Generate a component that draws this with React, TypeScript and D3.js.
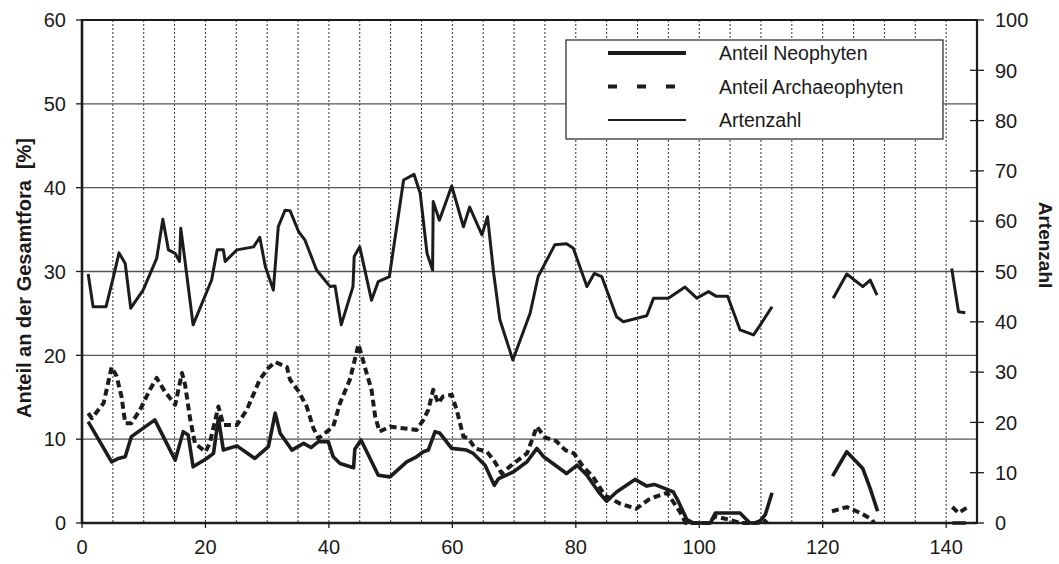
import React from 'react'
import * as d3 from 'd3'

// [position, value] pairs, null breaks the line
const artenzahl: ([number, number] | null)[] = [
  [1, 49.5], [1.8, 43], [3.9, 43], [5.1, 49], [6, 53.7], [7, 51.6], [7.9, 42.7], [9.9, 46.3],
  [12.1, 52.6], [13.1, 60.4], [14, 54.3], [15.1, 53.6], [15.8, 52], [16, 58.6], [16.5, 53.9],
  [18, 39.4], [21, 48.3], [21.9, 54.3], [22.9, 54.3], [23.2, 52], [25.1, 54.3], [27.8, 54.9],
  [28.8, 56.8], [29.7, 51], [31, 46.3], [31.8, 58.9], [32.9, 62.2], [33.7, 62.1], [35.1, 57.9],
  [36.1, 56.3], [38, 50.3], [40.2, 47], [41, 47.1], [42, 39.4], [43.9, 47], [44.1, 53],
  [45, 54.9], [46.9, 44.3], [48, 48], [49.8, 49], [52.1, 68.2], [53.8, 69.3], [54.8, 65.5],
  [55.9, 53.6], [56.8, 50.3], [56.9, 63.9], [57.9, 60.2], [59.9, 67], [61.8, 58.9], [62.8, 62.8],
  [64.8, 57.3], [65.7, 60.9], [66.7, 49.6], [67.7, 40.4], [69.8, 32.4], [72.6, 41.7], [73.9, 49],
  [76.6, 55.3], [78.5, 55.5], [79.6, 54.6], [81.8, 47], [83, 49.6], [84.2, 49], [86.6, 41],
  [87.7, 40], [91.5, 41.2], [92.6, 44.7], [95, 44.7], [97.7, 46.9], [99.6, 44.7], [101.5, 46],
  [102.7, 45.1], [104.6, 45.1], [106.6, 38.4], [108.8, 37.4], [109.9, 39.4], [111.8, 43],
  null,
  [121.7, 44.7], [123.9, 49.5], [126.5, 47], [127.7, 48.3], [128.8, 45.3],
  null,
  [140.9, 50.6], [142, 42], [143.1, 41.8],
]

const neophyten: ([number, number] | null)[] = [
  [1, 12.1], [4.8, 7.3], [5.9, 7.7], [7, 7.9], [8, 10.3], [11.8, 12.3], [15.1, 7.5], [16.4, 10.9],
  [17.2, 10.5], [18, 6.7], [20.2, 7.7], [21.3, 8.3], [22.1, 12.5], [22.9, 8.7], [25.1, 9.2],
  [28, 7.7], [30.2, 9.1], [31.3, 13.1], [32.1, 10.7], [34, 8.7], [35.9, 9.5], [37.1, 9],
  [38.3, 9.7], [39.9, 9.7], [40.7, 7.9], [41.8, 7.1], [44, 6.6], [44.2, 8.8], [45.2, 9.9],
  [48, 5.7], [49.9, 5.5], [52.6, 7.3], [54.2, 7.9], [55.3, 8.5], [56.1, 8.7], [57.2, 10.9],
  [58, 10.7], [59.9, 8.9], [62.3, 8.7], [63.4, 8.3], [65.3, 6.9], [66.8, 4.5], [67.5, 5.3],
  [69.9, 6.1], [72.1, 7.3], [73.7, 8.9], [74.8, 7.9], [78.5, 5.9], [80.2, 6.9], [81.8, 5.7],
  [83.7, 3.7], [85, 2.6], [86.6, 3.7], [89.6, 5.2], [91.5, 4.4], [92.7, 4.6], [94.5, 4.1],
  [95.8, 3.7], [96.6, 2.6], [98, 0.4], [99.1, 0], [101.8, 0], [102.6, 1.2], [106.6, 1.2],
  [108.2, 0], [109.6, 0], [110.7, 1], [111.8, 3.6],
  null,
  [121.6, 5.6], [123.9, 8.5], [126.5, 6.5], [127.7, 4.1], [128.9, 1.4],
  null,
  [141, 0], [143.2, 0],
]

const archaeophyten: ([number, number] | null)[] = [
  [1, 13.1], [1.6, 12.5], [3.5, 14.3], [4.8, 18.6], [5.6, 17.5], [6.4, 15.1], [7, 11.9], [8, 11.9],
  [9.4, 13.5], [11, 15.9], [12.1, 17.3], [13.4, 15.7], [15.1, 14.1], [16.2, 17.9], [16.7, 16.5],
  [17.5, 12.5], [18.3, 9.5], [20, 8.5], [20.7, 9.5], [22.1, 13.9], [22.9, 11.7], [25.1, 11.7],
  [26.7, 13.5], [28.8, 17.1], [30.2, 18.5], [31.3, 19.2], [33.2, 18.6], [33.7, 17.1], [35.1, 15.7],
  [36.4, 13.9], [37.5, 11.3], [38.3, 10.1], [40.7, 11.5], [41.8, 14.3], [43.4, 17.1], [44.8, 21.3],
  [46.1, 17.9], [46.9, 15.9], [47.5, 12.7], [48.2, 10.9], [49.9, 11.5], [54.2, 11.1], [55.3, 12.3],
  [56.1, 13.5], [56.9, 15.9], [57.7, 14.3], [58.5, 15.1], [59.9, 15.3], [60.7, 13.5], [61.8, 10.3],
  [62.6, 10.1], [63.7, 8.9], [65.6, 8.5], [66.7, 7.5], [68, 5.9], [69.9, 7.1], [72.1, 8.3],
  [73.7, 11.5], [75, 10.2], [76.8, 9.8], [78.3, 8.7], [79.7, 8.3], [81.1, 6.8], [82.8, 5.5],
  [84.7, 3.3], [87.2, 2.3], [89.8, 1.7], [91.8, 2.8], [92.8, 3.1], [94.8, 3.6], [96.9, 1.3],
  [97.8, 0], [101.5, 0], [102.6, 0.8], [104.8, 0.4], [106.6, 0], [109, 0], [110.4, 0.4], [111, 0],
  null,
  [121.5, 1.4], [123.9, 1.9], [126.1, 1.2], [128, 0.4], [128.3, 0],
  null,
  [141, 1.9], [142, 1.2], [143.3, 1.8],
]

const xTicks = [0, 20, 40, 60, 80, 100, 120, 140]
const leftTicks = [0, 10, 20, 30, 40, 50, 60]
const rightTicks = [0, 10, 20, 30, 40, 50, 60, 70, 80, 90, 100]
const legendItems = ['Anteil Neophyten', 'Anteil Archaeophyten', 'Artenzahl']

const W = 1059
const H = 564
const margin = { top: 20, right: 82, bottom: 41, left: 82 }
const FONT = '"Liberation Sans", Arial, sans-serif'
const INK = '#1c1c1c'

export default function App() {
  const x = d3.scaleLinear().domain([0, 145]).range([margin.left, W - margin.right])
  const yL = d3.scaleLinear().domain([0, 60]).range([H - margin.bottom, margin.top])
  const yR = d3.scaleLinear().domain([0, 100]).range([H - margin.bottom, margin.top])

  const lineL = d3
    .line<[number, number] | null>()
    .defined(d => d != null)
    .x(d => x(d![0]))
    .y(d => yL(d![1]))
  const lineR = d3
    .line<[number, number] | null>()
    .defined(d => d != null)
    .x(d => x(d![0]))
    .y(d => yR(d![1]))

  const x0 = x(0)
  const x1 = x(145)
  const yTop = yL(60)
  const yBot = yL(0)
  const grid5 = d3.range(5, 145, 5)

  // legend box
  const lg = { x: 566, y: 40, w: 377, h: 99 }

  return (
    <svg width={W} height={H} style={{ position: 'absolute', left: 0, top: 0, background: '#fff' }}>
      {/* vertical dotted grid */}
      {grid5.map(v => (
        <line key={'v' + v} x1={x(v)} x2={x(v)} y1={yTop} y2={yBot} stroke="#333" strokeWidth={1} strokeDasharray="2,2" />
      ))}
      {/* horizontal grid */}
      {[10, 20, 30, 40, 50].map(v => (
        <line key={'h' + v} x1={x0} x2={x1} y1={yL(v)} y2={yL(v)} stroke="#555" strokeWidth={1.3} />
      ))}

      {/* series */}
      <path d={lineR(artenzahl) || ''} fill="none" stroke={INK} strokeWidth={3} strokeLinejoin="round" />
      <path d={lineL(archaeophyten) || ''} fill="none" stroke={INK} strokeWidth={4} strokeDasharray="7,4" strokeLinejoin="round" />
      <path d={lineL(neophyten) || ''} fill="none" stroke={INK} strokeWidth={3.6} strokeLinejoin="round" />

      {/* frame & axes */}
      <line x1={x0} x2={x1} y1={yTop} y2={yTop} stroke={INK} strokeWidth={2.2} />
      <line x1={x0} x2={x1} y1={yBot} y2={yBot} stroke={INK} strokeWidth={2.6} />
      <line x1={x0} x2={x0} y1={yTop - 1} y2={yBot + 1} stroke={INK} strokeWidth={2.6} />
      <line x1={x1} x2={x1} y1={yTop - 1} y2={yBot + 1} stroke={INK} strokeWidth={2.2} />

      {/* left axis */}
      {leftTicks.map(v => (
        <g key={'l' + v}>
          <line x1={x0 - 6} x2={x0} y1={yL(v)} y2={yL(v)} stroke={INK} strokeWidth={1.3} />
          <text x={x0 - 16} y={yL(v)} dy="0.36em" textAnchor="end" fontFamily={FONT} fontSize={20} fill="#1a1a1a">
            {v}
          </text>
        </g>
      ))}
      {/* right axis */}
      {rightTicks.map(v => (
        <g key={'r' + v}>
          <line x1={x1 - 7} x2={x1 + 7} y1={yR(v)} y2={yR(v)} stroke={INK} strokeWidth={1.3} />
          <text x={x1 + 18} y={yR(v)} dy="0.36em" textAnchor="start" fontFamily={FONT} fontSize={20} fill="#1a1a1a">
            {v}
          </text>
        </g>
      ))}
      {/* bottom axis */}
      {xTicks.map(v => (
        <g key={'b' + v}>
          <line x1={x(v)} x2={x(v)} y1={yBot} y2={yBot + 5} stroke={INK} strokeWidth={1.3} />
          <text x={x(v)} y={yBot + 31} textAnchor="middle" fontFamily={FONT} fontSize={20} fill="#1a1a1a">
            {v}
          </text>
        </g>
      ))}

      {/* axis titles */}
      <text
        transform={`translate(24,278) rotate(-90)`}
        textAnchor="middle"
        dy="0.35em"
        fontFamily={FONT}
        fontSize={20}
        fontWeight="bold"
        fill="#1a1a1a"
        style={{ whiteSpace: 'pre' }}
      >
        {'Anteil an der Gesamtfora  [%]'}
      </text>
      <text
        transform={`translate(1046,245) rotate(90)`}
        textAnchor="middle"
        dy="0.35em"
        fontFamily={FONT}
        fontSize={19}
        fontWeight="bold"
        fill="#1a1a1a"
      >
        Artenzahl
      </text>

      {/* legend */}
      <rect x={lg.x} y={lg.y} width={lg.w} height={lg.h} fill="#fff" stroke="#333" strokeWidth={1.3} />
      {legendItems.map((name, i) => {
        const ly = 53 + i * 33.5
        return (
          <g key={name}>
            {i === 0 && <line x1={608} x2={686} y1={ly} y2={ly} stroke={INK} strokeWidth={4} />}
            {i === 1 && (
              <line x1={608} x2={686} y1={ly} y2={ly} stroke={INK} strokeWidth={4} strokeDasharray="9,20" />
            )}
            {i === 2 && <line x1={608} x2={686} y1={ly} y2={ly} stroke={INK} strokeWidth={2.2} />}
            <text x={719} y={ly} dy="0.36em" fontFamily={FONT} fontSize={19.5} fill="#1a1a1a">
              {name}
            </text>
          </g>
        )
      })}
    </svg>
  )
}
